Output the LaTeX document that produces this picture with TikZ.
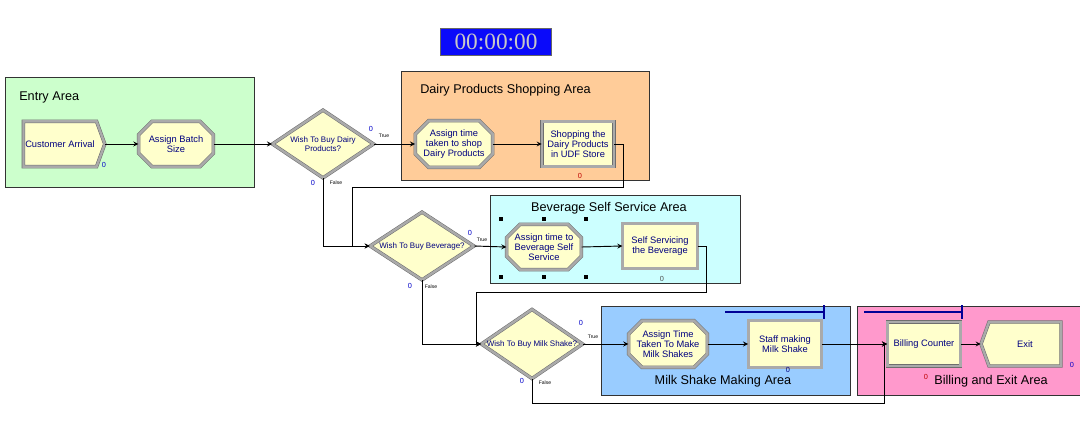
\documentclass[tikz,border=0pt]{standalone}
\usepackage{fontspec}
\setmainfont{Liberation Sans}
\newfontfamily\clockfont{Liberation Serif}
\usepackage{tikz}
\usetikzlibrary{shapes.geometric, shapes.misc, shapes.symbols, arrows}
\definecolor{entryfill}{RGB}{204,255,204}
\definecolor{dairyfill}{RGB}{255,204,153}
\definecolor{bevfill}{RGB}{204,255,255}
\definecolor{milkfill}{RGB}{153,204,255}
\definecolor{billfill}{RGB}{255,153,204}
\definecolor{modfill}{RGB}{255,255,204}
\definecolor{modedge}{RGB}{170,170,170}
\definecolor{modline}{RGB}{110,110,110}
\definecolor{modtext}{RGB}{0,0,128}
\definecolor{countblue}{RGB}{0,0,200}
\definecolor{countred}{RGB}{190,0,0}
\definecolor{resblue}{RGB}{0,0,150}
\definecolor{clockblue}{RGB}{10,10,250}
\definecolor{clocktext}{RGB}{200,200,200}
\tikzstyle{area} = [draw=black!80, line width=0.6pt]
\tikzstyle{areatitle} = [font=\fontsize{9.5}{11}\selectfont, text=black, inner sep=0pt]
\tikzstyle{module} = [fill=modfill, draw=modline, double=modedge, double distance=1.8pt, line width=0.4pt, text=modtext, font=\fontsize{7}{7.6}\selectfont, align=center, inner sep=1pt, minimum width=56pt, minimum height=34pt]
\tikzstyle{process} = [module, rectangle]
\tikzstyle{assign} = [module, chamfered rectangle, chamfered rectangle xsep=5pt, chamfered rectangle ysep=5pt]
\tikzstyle{create} = [module, signal, signal to=east, signal pointer angle=140]
\tikzstyle{dispose} = [module, signal, signal to=west, signal pointer angle=140]
\tikzstyle{decide} = [module, diamond, aspect=1.5, minimum width=76pt, minimum height=51pt, inner sep=0pt, font=\fontsize{6}{7}\selectfont]
\tikzstyle{counter} = [font=\fontsize{5.5}{6}\selectfont, text=countblue, inner sep=0pt]
\tikzstyle{flag} = [font=\fontsize{3.8}{4}\selectfont, inner sep=0pt]
\tikzstyle{arrow} = [line width=0.7pt,->,>=stealth]
\tikzstyle{resline} = [draw=resblue, line width=0.8pt]
\begin{document}
\begin{tikzpicture}[x=0.75pt, y=-0.75pt]
\useasboundingbox (0,0) rectangle (1080,432);
% areas
\draw [area, fill=entryfill] (5,77) rectangle (254,187);
\draw [area, fill=dairyfill] (401,71) rectangle (649,180);
\draw [area, fill=bevfill] (490,195) rectangle (740,283);
\draw [area, fill=milkfill] (601,306) rectangle (850,395);
\draw [area, fill=billfill] (857,306) rectangle (1084,395);
\node (entrytitle) [areatitle, anchor=west] at (19,97) {Entry Area};
\node (dairytitle) [areatitle, anchor=west] at (420,90) {Dairy Products Shopping Area};
\node (bevtitle) [areatitle] at (609,208) {Beverage Self Service Area};
\node (milktitle) [areatitle] at (723,381) {Milk Shake Making Area};
\node (billtitle) [areatitle] at (991,381) {Billing and Exit Area};
% clock
\node (clock) [fill=clockblue, draw=black!60, line width=0.6pt, minimum width=83pt, minimum height=20pt, inner sep=0pt, text=clocktext, font=\clockfont\fontsize{17.5}{17.5}\selectfont] at (496,42) {00:00:00};
% modules
\node (arrival) [create, minimum width=61pt] at (60,144) {Customer Arrival};
\node (batch) [assign] at (176,144) {Assign Batch\\Size};
\node (dairyq) [decide] at (323,144) {Wish To Buy Dairy\\Products?};
\node (shoptime) [assign, minimum width=58pt, minimum height=35pt] at (454,144) {Assign time\\taken to shop\\Dairy Products};
\node (shop) [process, minimum width=54pt] at (578,144) {Shopping the\\Dairy Products\\in UDF Store};
\node (bevq) [decide, minimum width=78pt] at (422,246) {Wish To Buy Beverage?};
\node (bevtime) [assign] at (544,247) {Assign time to\\Beverage Self\\Service};
\node (selfserv) [process] at (660,246) {Self Servicing\\the Beverage};
\node (milkq) [decide, minimum height=52pt] at (532,344) {Wish To Buy Milk Shake?};
\node (milktime) [assign, minimum width=57pt, minimum height=35pt] at (668,344) {Assign Time\\Taken To Make\\Milk Shakes};
\node (staff) [process, minimum width=55pt, minimum height=35pt] at (785,344) {Staff making\\Milk Shake};
\node (billing) [process, minimum width=55pt, minimum height=33pt] at (924,344) {Billing Counter};
\node (exit) [dispose, minimum width=60pt, minimum height=33pt] at (1025,344) {Exit};
% bends
\coordinate (dairyback) at (623,187);
\coordinate (dairyjoin) at (352,187);
\coordinate (bevback) at (706,292);
\coordinate (bevjoin) at (476,292);
\coordinate (milkskip) at (884,403);
% connectors
\draw [arrow] (arrival.east) -- (batch.west);
\draw [arrow] (batch.east) -- (dairyq.west);
\draw [arrow] (dairyq.east) -- (shoptime.west);
\draw [arrow] (shoptime.east) -- (shop.west);
\draw [arrow] (shop.east) -| (dairyback) -- (dairyjoin) |- (bevq.west);
\draw [arrow] (dairyq.south) |- (bevq.west);
\draw [arrow] (bevq.east) -- (bevtime.west);
\draw [arrow] (bevtime.east) -- (selfserv.west);
\draw [arrow] (selfserv.east) -| (bevback) -- (bevjoin) |- (milkq.west);
\draw [arrow] (bevq.south) |- (milkq.west);
\draw [arrow] (milkq.east) -- (milktime.west);
\draw [arrow] (milktime.east) -- (staff.west);
\draw [arrow] (staff.east) -- (billing.west);
\draw [arrow] (milkq.south) |- (milkskip) |- (billing.west);
\draw [arrow] (billing.east) -- (exit.west);
% branch labels
\node [flag] at (384,136) {True};
\node [flag] at (336,183) {False};
\node [flag] at (482,240) {True};
\node [flag] at (431,287) {False};
\node [flag] at (593,337) {True};
\node [flag] at (545,383) {False};
% counters
\node [counter] at (104,165) {0};
\node [counter] at (371,129) {0};
\node [counter] at (313,183) {0};
\node [counter, text=countred] at (580,176) {0};
\node [counter] at (470,233) {0};
\node [counter] at (410,286) {0};
\node [counter, text=black!70] at (662,279) {0};
\node [counter] at (581,323) {0};
\node [counter] at (522,381) {0};
\node [counter, text=modtext] at (788,370) {0};
\node [counter, text=countred] at (926,377) {0};
\node [counter] at (1072,365) {0};
% resource lines
\draw [resline] (725,312) -- (824,312);
\draw [resline] (824,305) -- (824,319);
\draw [resline] (864,312) -- (962,312);
\draw [resline] (962,305) -- (962,319);
% selection handles
\foreach \hx in {501,544,586}
  \foreach \hy in {219,277}
    \fill (\hx-2,\hy-2) rectangle +(4,4);
\end{tikzpicture}
\end{document}
